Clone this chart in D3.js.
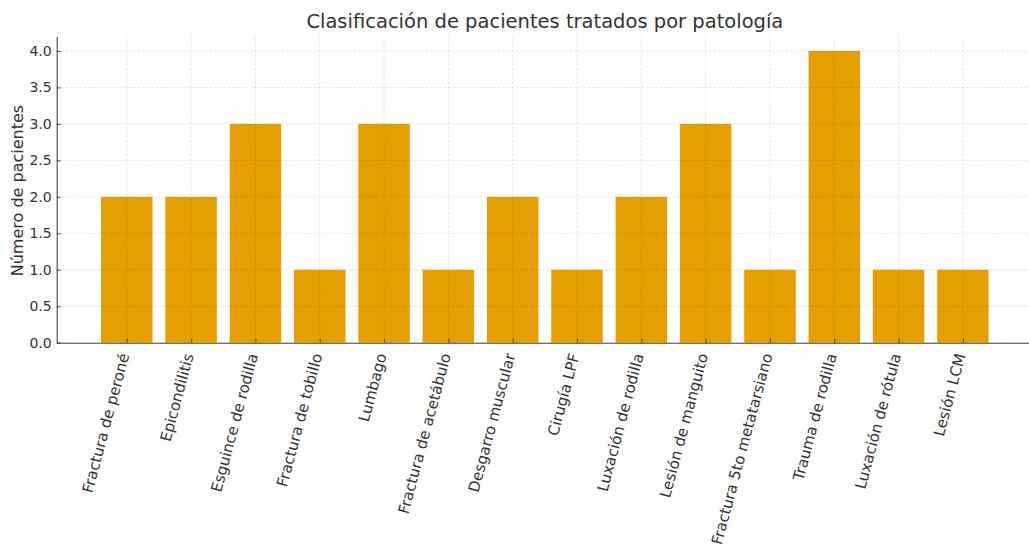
<!DOCTYPE html>
<html>
<head>
<meta charset="utf-8">
<script src="https://cdn.jsdelivr.net/npm/d3@7"></script>
<style>
  html, body { margin: 0; padding: 0; background: #fff; }
  svg { display: block; }
  text { font-family: "DejaVu Sans", sans-serif; fill: #333; }
</style>
</head>
<body>
<svg id="chart" width="1029" height="548"></svg>
<script>
// Patologías y número de pacientes tratados
const categories = [
  "Fractura de peroné", "Epicondilitis", "Esguince de rodilla", "Fractura de tobillo",
  "Lumbago", "Fractura de acetábulo", "Desgarro muscular", "Cirugía LPF",
  "Luxación de rodilla", "Lesión de manguito", "Fractura 5to metatarsiano",
  "Trauma de rodilla", "Luxación de rótula", "Lesión LCM"
];
const patients = [2, 2, 3, 1, 3, 1, 2, 1, 2, 3, 1, 4, 1, 1];
const yTicks = [0, 0.5, 1, 1.5, 2, 2.5, 3, 3.5, 4];

const title = "Clasificación de pacientes tratados por patología";
const yLabel = "Número de pacientes";

const svg = d3.select("#chart");
const W = 1029, H = 548;
const plotLeft = 56.7, plotRight = 1033, plotTop = 36.4, plotBottom = 342.7;

const barWidth = 0.8;
const n = categories.length;
const pad = 0.05 * (n - 1 + barWidth);
const x = d3.scaleLinear()
  .domain([-barWidth / 2 - pad, n - 1 + barWidth / 2 + pad])
  .range([plotLeft, plotRight]);
const y = d3.scaleLinear().domain([0, 4.2]).range([plotBottom, plotTop]);

// Barras
svg.append("g").selectAll("rect")
  .data(patients)
  .join("rect")
  .attr("x", (d, i) => x(i - barWidth / 2))
  .attr("width", (d, i) => x(i + barWidth / 2) - x(i - barWidth / 2))
  .attr("y", d => y(d))
  .attr("height", d => y(0) - y(d))
  .attr("fill", "#E69F00");

// Rejilla discontinua sobre las barras
const grid = svg.append("g")
  .attr("stroke", "rgba(0,0,0,0.14)")
  .attr("stroke-width", 0.8)
  .attr("stroke-dasharray", "2.5,2");
grid.selectAll("line.h")
  .data(yTicks)
  .join("line")
  .attr("class", "h")
  .attr("x1", plotLeft).attr("x2", W)
  .attr("y1", d => y(d)).attr("y2", d => y(d));
grid.selectAll("line.v")
  .data(d3.range(n))
  .join("line")
  .attr("class", "v")
  .attr("x1", d => x(d)).attr("x2", d => x(d))
  .attr("y1", plotTop).attr("y2", plotBottom);

// Eje Y
const yAxis = d3.axisLeft(y)
  .tickValues(yTicks)
  .tickFormat(d3.format(".1f"))
  .tickSizeInner(-4)
  .tickSizeOuter(0)
  .tickPadding(5);
const gy = svg.append("g")
  .attr("transform", `translate(${plotLeft},0)`)
  .call(yAxis);
gy.select(".domain").attr("stroke", "#444").attr("stroke-width", 1.1);
gy.selectAll(".tick line").attr("stroke", "#444");
gy.selectAll(".tick text")
  .attr("font-size", 14)
  .attr("fill", "#333")
  .style("font-family", "DejaVu Sans, sans-serif");

// Eje X
const xAxis = d3.axisBottom(x)
  .tickValues(d3.range(n))
  .tickFormat(i => categories[i])
  .tickSizeInner(-4)
  .tickSizeOuter(0);
const gx = svg.append("g")
  .attr("transform", `translate(0,${plotBottom})`)
  .call(xAxis);
gx.select(".domain").attr("stroke", "#444").attr("stroke-width", 1.1);
gx.selectAll(".tick line").attr("stroke", "#444");
gx.selectAll(".tick text")
  .attr("font-size", 15.1)
  .attr("fill", "#333")
  .style("font-family", "DejaVu Sans, sans-serif")
  .attr("text-anchor", "end")
  .attr("dy", "0.35em")
  .attr("y", 0)
  .attr("transform", "translate(-3,11) rotate(-75)");

// Título
svg.append("text")
  .attr("x", (plotLeft + plotRight) / 2)
  .attr("y", 28)
  .attr("text-anchor", "middle")
  .attr("font-size", 19.5)
  .text(title);

// Etiqueta del eje Y
svg.append("text")
  .attr("transform", `translate(23,${(plotTop + plotBottom) / 2 + 1}) rotate(-90)`)
  .attr("text-anchor", "middle")
  .attr("font-size", 16)
  .text(yLabel);
</script>
</body>
</html>
